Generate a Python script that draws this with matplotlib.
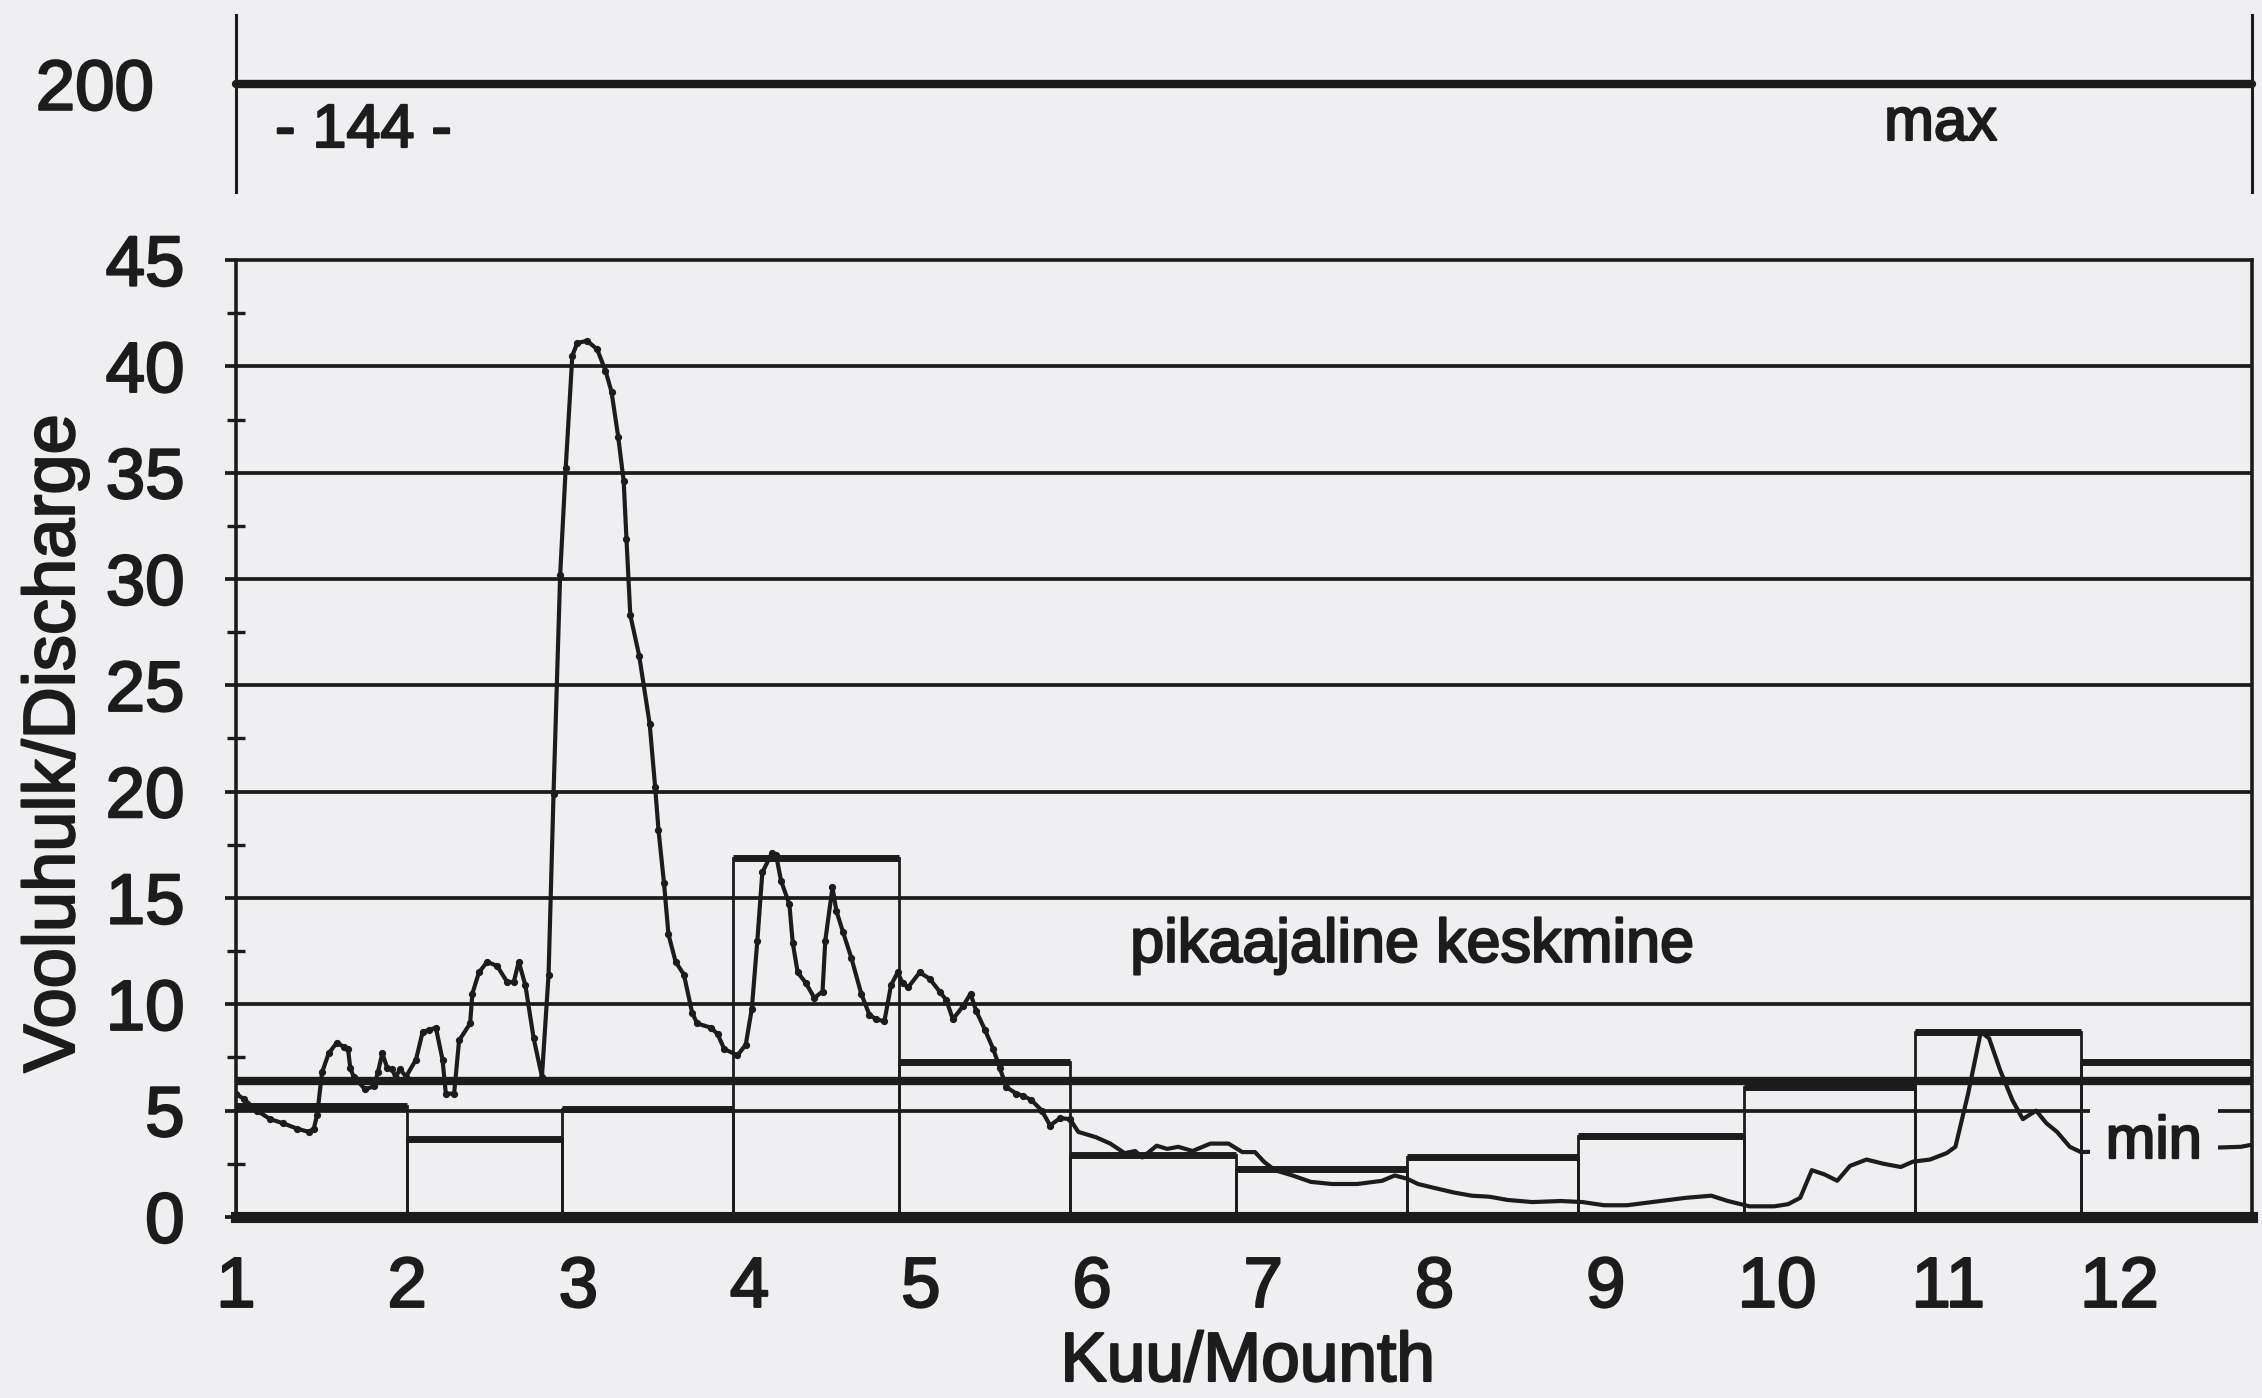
import numpy as np
import matplotlib.pyplot as plt
import matplotlib.patheffects as pe

plt.rcParams['font.family'] = ['Liberation Sans', 'DejaVu Sans']

# daily discharge (day of year, value)
days = [0.0, 1.4, 3.8, 6.2, 8.6, 11.1, 13.2, 14.1, 14.7, 15.6, 16.8, 18.3, 19.5, 20.3, 20.7,
        21.3, 23.4, 25.0, 25.7, 26.5, 27.4, 28.3, 28.9, 29.7, 30.8, 32.6, 33.8, 35.0, 36.2,
        37.4, 38.0, 39.5, 40.4, 42.4, 42.8, 44.0, 45.5, 47.3, 49.1, 50.3, 51.2, 52.4, 53.9,
        55.4, 56.6, 57.5, 58.7, 59.7, 60.9, 61.8, 63.6, 65.4, 66.9, 68.0, 69.2, 70.2, 70.7,
        71.4, 73.0, 74.9, 75.9, 76.5, 77.5, 78.3, 79.6, 81.1, 82.6, 83.5, 86.0, 87.2, 88.4,
        90.8, 92.3, 93.4, 94.4, 95.3, 97.0, 97.8, 98.7, 100.2, 100.8, 101.7, 103.2, 104.7,
        106.2, 106.7, 108.0, 108.7, 109.9, 111.4, 113.2, 114.7, 115.9, 117.4, 118.6, 119.8,
        120.7, 121.7, 123.8, 125.6, 127.4, 128.6, 129.8, 131.6, 133.0, 134.0, 135.6, 137.1,
        138.3, 139.5, 141.3, 142.5, 144.0, 145.9, 147.4, 149.2, 151.0, 152.5, 155.7, 158.3,
        160.9, 162.8, 164.1, 166.7, 168.6, 170.6, 173.2, 176.4, 179.7, 182.2, 184.5, 186.1,
        188.1, 191.3, 194.6, 198.4, 203.0, 207.5, 209.8, 212.0, 214.0, 217.2, 220.5, 223.7,
        227.0, 230.2, 234.7, 239.9, 243.8, 247.7, 251.8, 256.4, 262.5, 267.1, 270.1, 274.0,
        278.5, 281.0, 283.2, 285.3, 287.6, 289.9, 292.2, 295.2, 298.3, 301.4, 303.6, 306.7,
        309.7, 311.3, 313.6, 315.9, 317.4, 319.4, 321.6, 323.5, 325.9, 327.8, 329.7, 332.0,
        334.0, 340.0, 363.0, 365.0]
flow = [5.8, 5.55, 5.0, 4.6, 4.4, 4.15, 4.0, 4.15, 4.8, 6.8, 7.7, 8.2, 8.0, 7.9, 7.0,
        6.6, 6.0, 6.15, 6.8, 7.7, 7.0, 6.95, 6.55, 6.95, 6.6, 7.4, 8.7, 8.8, 8.9,
        7.4, 5.8, 5.8, 8.3, 9.1, 10.5, 11.5, 12.0, 11.8, 11.05, 11.05, 12.0, 10.9, 8.4,
        6.6, 11.4, 19.9, 30.2, 35.2, 40.5, 41.1, 41.2, 40.8, 39.8, 38.8, 36.7, 34.6, 31.9,
        28.3, 26.4, 23.2, 20.2, 18.2, 15.7, 13.3, 12.0, 11.4, 9.6, 9.1, 8.9, 8.6, 7.9,
        7.6, 8.1, 9.8, 13.0, 16.2, 17.1, 17.0, 15.8, 14.7, 12.9, 11.5, 11.0, 10.3,
        10.6, 13.0, 15.5, 14.4, 13.4, 12.2, 10.5, 9.5, 9.3, 9.2, 10.9, 11.5,
        11.0, 10.8, 11.5, 11.2, 10.6, 10.2, 9.3, 9.9, 10.5, 9.7, 8.8, 7.9,
        7.0, 6.1, 5.8, 5.7, 5.5, 5.0, 4.3, 4.65, 4.6, 4.0, 3.75, 3.45,
        3.0, 3.1, 2.8, 3.35, 3.2, 3.3, 3.1, 3.45, 3.45, 3.05, 3.05, 2.6,
        2.2, 1.95, 1.65, 1.55, 1.55, 1.7, 1.95, 1.8, 1.55, 1.35, 1.15, 1.0,
        0.95, 0.8, 0.7, 0.75, 0.7, 0.55, 0.55, 0.7, 0.9, 1.0, 0.75, 0.5,
        0.5, 0.6, 0.9, 2.2, 2.0, 1.7, 2.4, 2.7, 2.5, 2.35, 2.6, 2.7,
        3.0, 3.3, 5.8, 8.7, 8.4, 6.9, 5.5, 4.6, 5.0, 4.4, 4.0, 3.3,
        3.05, 3.1, 3.3, 3.4]

month_start = [0, 31, 59, 90, 120, 151, 181, 212, 243, 273, 304, 334]
year_end = 365
month_mean = [5.2, 3.65, 5.1, 16.9, 7.3, 2.9, 2.25, 2.8, 3.8, 6.1, 8.7, 7.3]
longterm_mean = 6.4
max_level = 200
month_labels = [str(m) for m in range(1, 13)]
tick_days = np.arange(12) * 31

ink = '#1c1c1c'
bg = '#efeff1'
heavy = [pe.withStroke(linewidth=1.6, foreground=ink)]

fig = plt.figure(figsize=(22.62, 13.98), dpi=100, facecolor=bg)

# main panel
ax = fig.add_axes([0.1043, 0.1295, 0.8913, 0.6845])
ax.set_facecolor(bg)
ax.set_xlim(0, year_end)
ax.set_ylim(0, 45)

for y in range(5, 45, 5):
    ax.axhline(y, color=ink, lw=2.7, zorder=1)
ax.axhline(longterm_mean, color=ink, lw=6, zorder=2)

widths = np.diff(month_start + [year_end])
ax.bar(month_start, month_mean, width=widths, align='edge', fill=False,
       edgecolor=ink, linewidth=2.0, zorder=3)
ax.hlines(month_mean, month_start, np.array(month_start) + widths, color=ink, lw=5, zorder=3)

early = [i for i, d in enumerate(days) if d <= 152]
ax.plot(days, flow, color=ink, lw=3.0, marker='o', ms=4.2, markevery=early, zorder=4)

for side in ['left', 'right', 'top']:
    ax.spines[side].set_linewidth(2.6)
    ax.spines[side].set_color(ink)
ax.spines['bottom'].set_linewidth(8)
ax.spines['bottom'].set_color(ink)
ax.spines['bottom'].set_zorder(5)

ax.set_yticks(range(0, 46, 5))
ax.set_yticks(np.arange(2.5, 45, 5), minor=True)
ax.tick_params(axis='y', which='major', direction='out', length=8, width=2.7,
               color=ink, labelsize=51, pad=29, labelcolor=ink)
ax.tick_params(axis='y', which='minor', direction='inout', length=13, width=2.4, color=ink)
ax.set_xticks(tick_days)
ax.set_xticklabels(month_labels)
ax.tick_params(axis='x', length=0, labelsize=51, pad=28, labelcolor=ink)
for lab in ax.get_xticklabels() + ax.get_yticklabels():
    lab.set_path_effects(heavy)

ax.text(213, 12.0, 'pikaajaline keskmine', ha='center', va='baseline', fontsize=44,
        color=ink, zorder=6, path_effects=heavy)
ax.text(338.5, 2.77, 'min', ha='left', va='baseline', fontsize=43, color=ink, zorder=6,
        path_effects=heavy, bbox=dict(facecolor=bg, edgecolor='none', pad=11))

# broken top panel with the maximum
top = fig.add_axes([0.1043, 0.8627, 0.8913, 0.1266])
top.patch.set_alpha(0)
top.set_xlim(0, year_end)
top.set_ylim(130, 245)
top.axhline(max_level, color=ink, lw=6, solid_capstyle='round', clip_on=False)
for side in ['top', 'bottom']:
    top.spines[side].set_visible(False)
for side in ['left', 'right']:
    top.spines[side].set_linewidth(2.2)
    top.spines[side].set_color(ink)
top.set_xticks([])
top.set_yticks([max_level])
top.tick_params(axis='y', length=0, labelsize=51, pad=59, labelcolor=ink)
for lab in top.get_yticklabels():
    lab.set_path_effects(heavy)
top.text(7.1, 159.2, '- 144 -', ha='left', va='baseline', fontsize=44, color=ink, path_effects=heavy)
top.text(298.4, 163.8, 'max', ha='left', va='baseline', fontsize=43, color=ink, path_effects=heavy)

fig.text(0.0245, 0.4685, 'Vooluhulk/Discharge', rotation=90, ha='center', va='center',
         fontsize=52, color=ink, path_effects=heavy)
fig.text(0.5517, 0.0122, 'Kuu/Mounth', ha='center', va='baseline', fontsize=50, color=ink,
         path_effects=heavy)

fig.savefig('out.png', dpi=100, facecolor=bg)
